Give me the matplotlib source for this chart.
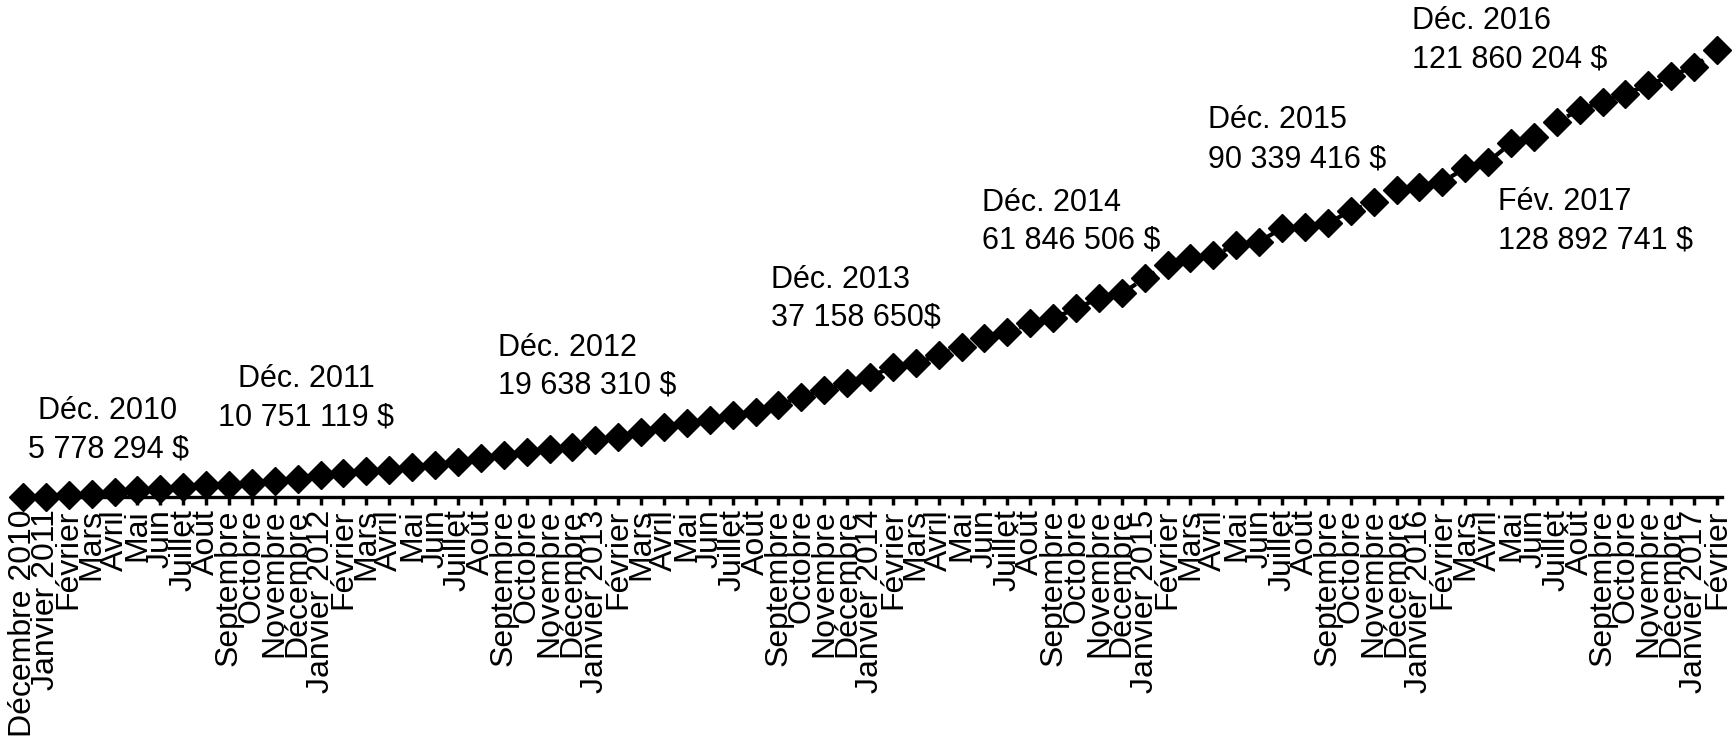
import numpy as np
import matplotlib
matplotlib.use("Agg")
import matplotlib.pyplot as plt

plt.rcParams['font.family'] = ['Liberation Sans', 'DejaVu Sans']

# mois, de décembre 2010 à février 2017
mois = ["Décembre 2010"]
for annee in range(2011, 2018):
    mois.append(f"Janvier {annee}")
    mois += ["Février"]
    if annee == 2017:
        break
    mois += ["Mars", "Avril", "Mai", "Juin", "Juillet", "Août",
             "Septembre", "Octobre", "Novembre", "Décembre"]

# montant cumulé (millions de $)
montants = [
    5.78,
    5.9, 6.2, 6.6, 7.1, 7.6, 8.0, 8.5, 9.0, 9.2, 9.7, 10.2, 10.75,
    11.8, 12.3, 13.0, 13.3, 14.1, 14.6, 15.5, 16.4, 17.4, 18.1, 19.0, 19.64,
    21.5, 22.4, 23.8, 25.1, 26.1, 27.0, 28.4, 29.3, 31.1, 33.4, 35.2, 37.16,
    38.9, 41.7, 42.6, 44.9, 47.2, 49.5, 51.3, 53.6, 55.0, 57.7, 60.5, 61.85,
    66.0, 69.7, 71.5, 72.4, 75.2, 76.1, 79.8, 80.2, 81.2, 84.6, 86.9, 90.34,
    91.2, 92.6, 96.3, 98.1, 103.2, 105.0, 109.1, 112.4, 114.6, 116.9, 119.2, 121.86,
    124.3, 128.89,
]

# étiquettes annotées
etiquettes_date = ["Déc. 2010", "Déc. 2011", "Déc. 2012", "Déc. 2013",
                   "Déc. 2014", "Déc. 2015", "Déc. 2016", "Fév. 2017"]
etiquettes_montant = ["5 778 294 $", "10 751 119 $", "19 638 310 $", "37 158 650$",
                      "61 846 506 $", "90 339 416 $", "121 860 204 $", "128 892 741 $"]

# position des annotations en pixels (x, ligne de base 1, ligne de base 2, alignement)
pos_annot = [
    (108, 419, 457, "center"),
    (306, 387, 426, "center"),
    (498, 356, 394, "left"),
    (771, 288, 326, "left"),
    (982, 211, 248, "left"),
    (1208, 128, 167, "left"),
    (1412, 29, 68, "left"),
    (1498, 210, 248, "left"),
]

W, H = 1735, 741
fig = plt.figure(figsize=(W / 100, H / 100), dpi=100)
ax = fig.add_axes([0, 244 / H, 1, 497 / H])

x = np.arange(len(mois))
ax.plot(x, montants, color='black', linestyle='--', linewidth=3,
        marker='D', markersize=14, markeredgewidth=1, clip_on=False, zorder=3)

px = 22.892
ax.set_xlim(-23 / px, 74 + 18 / px)
ax.set_ylim(5.78, 5.78 + 497 / 3.631)

ax.set_xticks(x)
ax.set_xticklabels(mois, rotation=90, fontsize=23)
ax.tick_params(axis='x', direction='out', length=6, width=2.5, pad=3, color='black')
ax.set_yticks([])

for s in ['top', 'left', 'right']:
    ax.spines[s].set_visible(False)
ax.spines['bottom'].set_linewidth(2.4)
ax.spines['bottom'].set_bounds(-0.22, 74.22)

for date, montant, (xp, y1, y2, ha) in zip(etiquettes_date, etiquettes_montant, pos_annot):
    fig.text(xp / W, 1 - y1 / H, date, ha=ha, va='baseline', fontsize=22)
    fig.text(xp / W, 1 - y2 / H, montant, ha=ha, va='baseline', fontsize=22)

fig.savefig("out.png", dpi=100)
